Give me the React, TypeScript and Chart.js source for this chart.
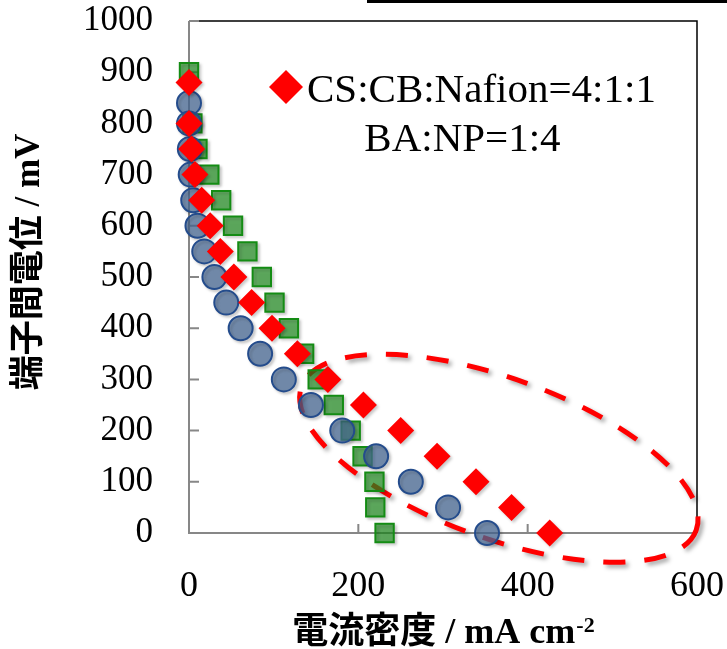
import React, { useEffect, useRef } from "react";
import { Chart, registerables } from "chart.js";

Chart.register(...registerables);

// ---- data ----
const voltageTicks = [0, 100, 200, 300, 400, 500, 600, 700, 800, 900, 1000];
const currentTicks = [0, 200, 400, 600];

// red diamonds: CS:CB:Nafion=4:1:1, BA:NP=1:4
const redCurrent = [0, 0, 3, 7, 15, 25, 37, 53, 74, 98, 128, 164, 206, 250, 293, 339, 381, 426];
const redVoltage = [880, 800, 750, 700, 650, 600, 550, 500, 450, 400, 350, 300, 250, 200, 150, 100, 50, 0];

// blue circles
const blueCurrent = [0, 0, 1, 2, 5, 10, 18, 30, 44, 61, 84, 112, 144, 181, 221, 262, 306, 352];
const blueVoltage = [840, 800, 750, 700, 650, 600, 550, 500, 450, 400, 350, 300, 250, 200, 150, 100, 50, 0];

// green squares
const greenCurrent = [0, 4, 10, 24, 38, 52, 69, 86, 101, 118, 136, 152, 171, 191, 205, 219, 220, 231];
const greenVoltage = [900, 800, 750, 700, 650, 600, 550, 500, 450, 400, 350, 300, 250, 200, 150, 100, 50, 0];

const legendLines = ["CS:CB:Nafion=4:1:1", "BA:NP=1:4"];
const xTitleMain = "電流密度 / mA cm";
const xTitleSup = "-2";
const yTitle = "端子間電位 / mV";

// dashed ellipse highlight (centre in data units)
const ellipseCenter = { x: 366, y: 146 };

const SERIF = "'Liberation Serif', 'Times New Roman', serif";
const TITLE_FONT = "'Liberation Serif', 'Noto Sans CJK JP', serif";

const toPoints = (xs: number[], ys: number[]) => xs.map((x, i) => ({ x, y: ys[i] }));

const decorPlugin = {
  id: "decor",
  beforeDatasetsDraw(chart: any) {
    const { ctx, chartArea: ca, scales } = chart;
    const xs = scales.x;
    const ys = scales.y;
    ctx.save();
    // black frame top/right
    ctx.strokeStyle = "#000";
    ctx.lineWidth = 1.5;
    ctx.beginPath();
    ctx.moveTo(ca.left, ca.top);
    ctx.lineTo(ca.right, ca.top);
    ctx.lineTo(ca.right, ca.bottom);
    ctx.stroke();
    // gray axes
    ctx.strokeStyle = "#878787";
    ctx.lineWidth = 2;
    ctx.beginPath();
    ctx.moveTo(ca.left, ca.top);
    ctx.lineTo(ca.left, ca.bottom);
    ctx.lineTo(ca.right, ca.bottom);
    ctx.stroke();
    // inner tick marks
    ctx.beginPath();
    voltageTicks.forEach((v) => {
      const py = ys.getPixelForValue(v);
      ctx.moveTo(ca.left, py);
      ctx.lineTo(ca.left + 10, py);
    });
    currentTicks.forEach((v) => {
      const px = xs.getPixelForValue(v);
      ctx.moveTo(px, ca.bottom);
      ctx.lineTo(px, ca.bottom - 9);
    });
    ctx.stroke();
    // dashed ellipse with shadow
    ctx.shadowColor = "rgba(0,0,0,0.35)";
    ctx.shadowBlur = 4;
    ctx.shadowOffsetX = 3;
    ctx.shadowOffsetY = 3;
    ctx.strokeStyle = "#FF0000";
    ctx.lineWidth = 5;
    ctx.setLineDash([22, 19]);
    ctx.beginPath();
    ctx.ellipse(
      xs.getPixelForValue(ellipseCenter.x),
      ys.getPixelForValue(ellipseCenter.y),
      210,
      80,
      (20 * Math.PI) / 180,
      0,
      Math.PI * 2
    );
    ctx.stroke();
    ctx.restore();
    // marker shadows
    ctx.save();
    ctx.shadowColor = "rgba(0,0,0,0.22)";
    ctx.shadowBlur = 3;
    ctx.shadowOffsetX = 2;
    ctx.shadowOffsetY = 2;
  },
  afterDatasetsDraw(chart: any) {
    chart.ctx.restore();
  },
  afterDraw(chart: any) {
    const { ctx, chartArea: ca } = chart;
    ctx.save();
    // top bar (cropped frame in the source image)
    ctx.fillStyle = "#000";
    ctx.fillRect(ca.left + 178, 0, chart.width, 3);

    // legend
    const dx = ca.left + 97;
    const dy = ca.top + 66;
    const r = 17;
    ctx.fillStyle = "#FF0000";
    ctx.beginPath();
    ctx.moveTo(dx - r, dy);
    ctx.lineTo(dx, dy - r);
    ctx.lineTo(dx + r, dy);
    ctx.lineTo(dx, dy + r);
    ctx.closePath();
    ctx.fill();
    ctx.fillStyle = "#000";
    ctx.font = `41px ${SERIF}`;
    ctx.textBaseline = "alphabetic";
    ctx.textAlign = "left";
    const tx = dx + r + 4;
    ctx.fillText(legendLines[0], tx, dy + 15);
    const w1 = ctx.measureText(legendLines[0]).width;
    const mid = (dx - r + tx + w1) / 2;
    ctx.textAlign = "center";
    ctx.fillText(legendLines[1], mid, dy + 64);

    // x title with superscript
    ctx.textAlign = "left";
    ctx.font = `bold 36px ${TITLE_FONT}`;
    const wm = ctx.measureText(xTitleMain).width;
    ctx.font = `bold 22px ${SERIF}`;
    const ws = ctx.measureText(xTitleSup).width;
    const cx = (ca.left + ca.right) / 2;
    const start = cx - (wm + ws) / 2;
    const base = ca.bottom + 110;
    ctx.font = `bold 36px ${TITLE_FONT}`;
    ctx.fillText(xTitleMain, start, base);
    ctx.font = `bold 22px ${SERIF}`;
    ctx.fillText(xTitleSup, start + wm + 1, base - 11);

    // y title
    ctx.translate(30, ca.top + 241);
    ctx.rotate(-Math.PI / 2);
    ctx.textAlign = "center";
    ctx.textBaseline = "middle";
    ctx.font = `bold 35px ${TITLE_FONT}`;
    ctx.fillText(yTitle, 0, 0);
    ctx.restore();
  },
};

export default function App() {
  const canvasRef = useRef<HTMLCanvasElement | null>(null);

  useEffect(() => {
    if (!canvasRef.current) return;
    const chart = new Chart(canvasRef.current, {
      type: "scatter",
      data: {
        datasets: [
          {
            label: legendLines.join(" "),
            data: toPoints(redCurrent, redVoltage),
            pointStyle: "rectRot",
            pointRadius: 13.5,
            pointHoverRadius: 13.5,
            pointBackgroundColor: "#FF0000",
            pointBorderColor: "#FF0000",
            pointBorderWidth: 0,
            showLine: false,
            clip: false,
            order: 1,
          } as any,
          {
            label: "blue",
            data: toPoints(blueCurrent, blueVoltage),
            pointStyle: "circle",
            pointRadius: 12,
            pointHoverRadius: 12,
            pointBackgroundColor: "rgba(72,106,150,0.72)",
            pointBorderColor: "#244C8C",
            pointBorderWidth: 2,
            showLine: false,
            clip: false,
            order: 2,
          } as any,
          {
            label: "green",
            data: toPoints(greenCurrent, greenVoltage),
            pointStyle: "rect",
            pointRadius: 13,
            pointHoverRadius: 13,
            pointBackgroundColor: "rgba(30,140,30,0.68)",
            pointBorderColor: "#148C14",
            pointBorderWidth: 2,
            showLine: false,
            clip: false,
            order: 3,
          } as any,
        ],
      },
      options: {
        responsive: false,
        animation: false,
        devicePixelRatio: 1,
        layout: { padding: { left: 0, right: 30, top: 21, bottom: 0 } },
        plugins: {
          legend: { display: false },
          tooltip: { enabled: false },
          title: { display: false },
        },
        scales: {
          x: {
            type: "linear",
            min: 0,
            max: 600,
            grid: { display: false },
            border: { display: false },
            ticks: {
              stepSize: 200,
              color: "#000",
              padding: 28,
              maxRotation: 0,
              callback: (v: any) => String(v),
              font: { family: SERIF, size: 36, lineHeight: 1 },
            },
            afterFit: (scale: any) => {
              scale.height = 116;
              scale.paddingLeft = 0;
              scale.paddingRight = 0;
            },
          },
          y: {
            type: "linear",
            min: 0,
            max: 1000,
            grid: { display: false },
            border: { display: false },
            ticks: {
              stepSize: 100,
              color: "#000",
              padding: 28,
              callback: (v: any) => String(v),
              font: { family: SERIF, size: 35, lineHeight: 1 },
            },
            afterFit: (scale: any) => {
              scale.width = 189;
              scale.paddingTop = 0;
              scale.paddingBottom = 0;
            },
          },
        },
      },
      plugins: [decorPlugin],
    });
    return () => chart.destroy();
  }, []);

  return (
    <div style={{ position: "absolute", left: 0, top: 0, width: 727, height: 649, background: "#fff" }}>
      <canvas ref={canvasRef} width={727} height={649} style={{ display: "block" }} />
    </div>
  );
}
